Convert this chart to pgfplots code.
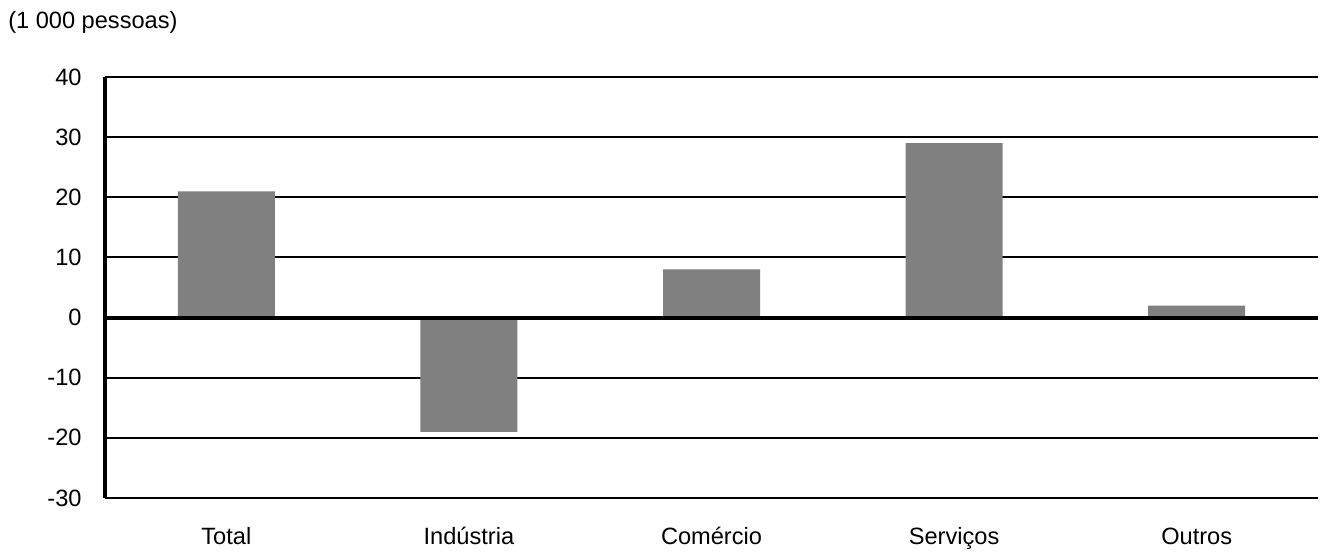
\documentclass[border=0pt]{standalone}
\usepackage{pgfplots}
\pgfplotsset{compat=1.18}
\usepackage{fontspec}
\setmainfont{Liberation Sans}
\definecolor{bargray}{HTML}{808080}
\begin{document}
\fontsize{17.7pt}{21pt}\selectfont
\begin{tikzpicture}[x=1pt,y=1pt]
\useasboundingbox (0,0) rectangle (992.25,414);
\node[anchor=west,inner sep=0] at (6,397.5) {(1 000 pessoas)};
\begin{axis}[at={(78.75pt,40.5pt)}, anchor=south west, scale only axis,
  width=909.75pt, height=315.75pt,
  xmin=-0.5, xmax=4.5, ymin=-30, ymax=40,
  axis y line*=left, axis x line*=bottom,
  x axis line style={draw=none},
  y axis line style={line width=2.8pt, -},
  ytick={-30,-20,...,40},
  ymajorgrids, grid style={black, line width=1.4pt},
  major tick length=0pt,
  xtick={0,1,2,3,4},
  xticklabels={Total,Indústria,Comércio,Serviços,Outros},
  yticklabel style={xshift=-11.5pt},
  xticklabel style={yshift=-16pt, text height=13pt, text depth=4pt},
  /pgf/number format/assume math mode=true,
  tick label style={font=\fontsize{17.7pt}{21pt}\selectfont},
  ybar, bar width=72.75pt, bar shift=0pt,
  clip=false]
\addplot[fill=bargray, draw=none] coordinates {(0,21) (1,-19) (2,8) (3,29) (4,2)};
\draw[line width=3pt] (axis cs:-0.5,0) -- (axis cs:4.5,0);
\end{axis}
\end{tikzpicture}
\end{document}
